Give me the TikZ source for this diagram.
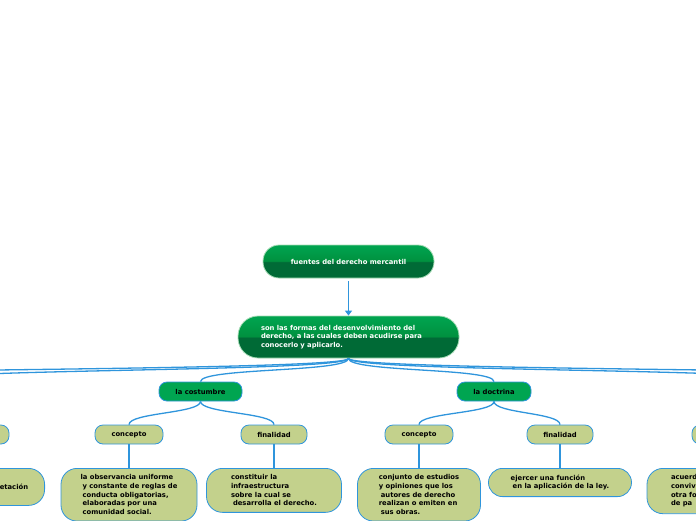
\documentclass[tikz,border=0pt]{standalone}
\usepackage{fontspec}
\setmainfont{DejaVu Sans}
\usepackage{xcolor}
\definecolor{verdeClaro}{HTML}{00A34F}
\definecolor{verdeMedio}{HTML}{00913F}
\definecolor{verdeOscuro}{HTML}{006A36}
\definecolor{verdeTema}{HTML}{00A551}
\definecolor{verdeBorde}{HTML}{A6DCB6}
\definecolor{oliva}{HTML}{C3D18C}
\definecolor{azulRama}{HTML}{2F95DC}
\usepackage{tikz}
\usetikzlibrary{arrows.meta}
\pgfdeclareverticalshading{brillo}{100bp}{color(0bp)=(verdeOscuro); color(25bp)=(verdeOscuro);
  color(49bp)=(verdeOscuro); color(51bp)=(verdeMedio); color(73bp)=(verdeClaro); color(100bp)=(verdeClaro)}

\begin{document}
\begin{tikzpicture}[x=1pt,y=-1pt,
  letra/.style={font=\fontsize{6.8}{8.7}\selectfont\bfseries},
  raiz/.style={letra,shade,shading=brillo,draw=verdeBorde,line width=0.8pt,text=white},
  tema/.style={letra,fill=verdeTema,draw=azulRama,line width=0.8pt,rounded corners=8pt,
    minimum height=19pt,inner sep=0pt},
  sub/.style={tema,fill=oliva},
  hoja/.style={letra,fill=oliva,draw=azulRama,line width=0.8pt,rounded corners=16pt,
    anchor=north,align=left,inner ysep=6.3pt},
  rama/.style={draw=azulRama,line width=1.3pt},
  flecha/.style={rama,-{Triangle[length=5pt,width=7pt]},shorten <=3pt}]
  \useasboundingbox (0,0) rectangle (696,520);
  \clip (0,0) rectangle (696,520);
  \node[raiz,rounded corners=16pt,minimum width=171pt,minimum height=33pt] (fuentes)
    at (348.5,261.5) {fuentes del derecho mercantil};
  \node[raiz,rounded corners=20pt,minimum height=42pt,inner xsep=23pt,text width=175pt,
    align=left] (formas) at (348.5,337) {son las formas del desenvolvimiento del\\
     derecho, a las cuales deben acudirse para\\conocerlo y aplicarlo.};
  \node[tema,minimum width=83pt] (costumbre) at (200.5,391.5) {la costumbre};
  \node[tema,minimum width=74pt] (doctrina) at (494,391.5) {la doctrina};
  \coordinate (izqA) at (-92,382);
  \coordinate (izqB) at (-385,382);
  \coordinate (derA) at (800,382);
  \coordinate (derB) at (1090,382);
  \node[sub,minimum width=66pt] (finIzq) at (-24,434.5) {};
  \node[sub,minimum width=68pt] (concCost) at (129,434.5) {concepto};
  \node[sub,minimum width=66pt] (finCost) at (274,434.5) {finalidad};
  \node[sub,minimum width=68pt] (concDoct) at (419,434.5) {concepto};
  \node[sub,minimum width=66pt] (finDoct) at (560,434.5) {finalidad};
  \node[sub,minimum width=68pt] (concDer) at (726,434.5) {};
  \node[hoja,anchor=north east,minimum height=37pt,inner xsep=16.5pt] (hojaIzq)
    at (45,468) {etación};
  \node[hoja,minimum width=136pt] (hojaObs) at (129,468)
    {la observancia uniforme\\\hspace*{2pt}y constante de reglas de\\
     \hspace*{2pt}conducta obligatorias,\\\hspace*{2pt}elaboradas por una\\
     \hspace*{2pt}comunidad social.};
  \node[hoja,minimum width=135pt] (hojaInfra) at (274,468)
    {constituir la\\infraestructura\\sobre la cual se\\\hspace*{2pt}desarrolla el derecho.};
  \node[hoja,minimum width=123pt] (hojaEst) at (419,468)
    {conjunto de estudios\\y opiniones que los\\\hspace*{2pt}autores de derecho\\
     realizan o emiten en\\\hspace*{2pt}sus obras.};
  \node[hoja,minimum width=143pt,rounded corners=14pt] (hojaFunc) at (560,468)
    {ejercer una función\\\hspace*{2pt}en la aplicación de la ley.};
  \node[hoja,inner xsep=24pt,text width=87pt] (hojaDer) at (714.5,468)
    {acuerd\\conviv\\otra fo\\de pa};
  \draw[flecha] (fuentes.south) -- (formas.north);
  \foreach \h in {izqB,izqA,costumbre.north,doctrina.north,derA,derB}
    \draw[rama] (formas.south) .. controls +(0,14) and +(0,-14) .. (\h);
  \draw[rama] (costumbre.south) .. controls +(0,12) and +(0,-12) .. (concCost.north);
  \draw[rama] (costumbre.south) .. controls +(0,12) and +(0,-12) .. (finCost.north);
  \draw[rama] (doctrina.south) .. controls +(0,12) and +(0,-12) .. (concDoct.north);
  \draw[rama] (doctrina.south) .. controls +(0,12) and +(0,-12) .. (finDoct.north);
  \draw[rama] (finIzq.south) -- (finIzq.south |- hojaIzq.north);
  \draw[rama] (concCost.south) -- (hojaObs.north);
  \draw[rama] (finCost.south) -- (hojaInfra.north);
  \draw[rama] (concDoct.south) -- (hojaEst.north);
  \draw[rama] (finDoct.south) -- (hojaFunc.north);
  \draw[rama] (concDer.south) -- (hojaDer.north);
\end{tikzpicture}
\end{document}
